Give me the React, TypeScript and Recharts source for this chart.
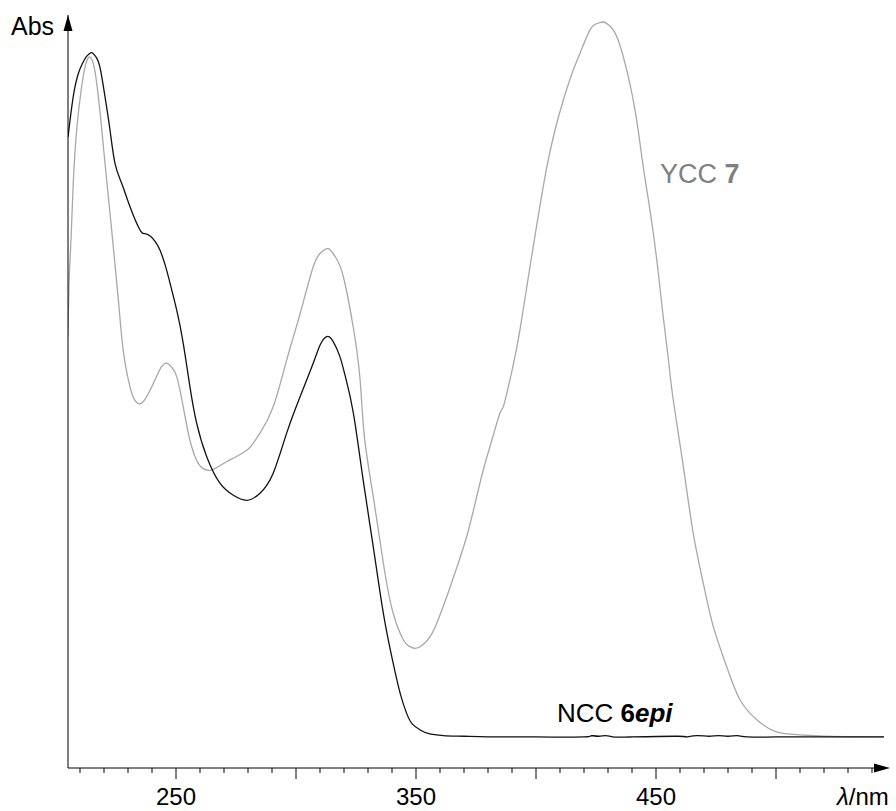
import React from 'react';
import { LineChart, Line, XAxis, YAxis } from 'recharts';

// NCC 6epi (black trace): [wavelength nm, absorbance (arb.)]
const nccNm = [
  205, 207.2, 209.3, 211, 212.5, 214, 215, 216.5, 218.3, 220.4, 222.5, 224.6, 227.4, 230.8, 235, 237, 239.5,
  241.5, 243.3, 245.5, 247.5, 250.3, 253, 255.8, 258.6, 262.8, 268.3, 273.9, 279.5, 285, 290.5, 296.1,
  301.7, 307.2, 310, 312.8, 315.5, 318.3, 320.5, 323.9, 328, 332.2, 336.4, 340.5, 343.5, 346.1, 348.5,
  351.7, 355, 361.4, 370, 380, 400, 420, 423, 426, 429, 432, 440, 459, 463, 467, 472, 476, 480, 484, 488,
  500, 520, 545,
];
const nccAbs = [
  0.839, 0.896, 0.928, 0.942, 0.951, 0.956, 0.957, 0.952, 0.937, 0.896, 0.849, 0.802, 0.774, 0.742, 0.709,
  0.704, 0.700, 0.692, 0.681, 0.66, 0.635, 0.597, 0.551, 0.49, 0.439, 0.392, 0.355, 0.338, 0.331, 0.341,
  0.369, 0.425, 0.476, 0.523, 0.548, 0.56, 0.553, 0.532, 0.505, 0.453, 0.359, 0.266, 0.173, 0.103, 0.06,
  0.033, 0.018, 0.01, 0.005, 0.002, 0.001, 0, 0, 0, 0.002, 0.001, 0.002, 0, 0, 0.001, 0, 0.002, 0.001,
  0.002, 0.001, 0.002, 0, 0, 0, 0,
];

// YCC 7 (grey trace)
const yccNm = [
  205, 205.5, 206.3, 207.2, 208.6, 210.5, 212.3, 214.2, 216, 217.6, 219, 220.4, 223.2, 226, 228, 230.8, 233,
  235, 237, 239.2, 242, 244, 246.1, 248, 250.3, 253, 255.8, 258.6, 261, 264.2, 267.5, 271.1, 275, 279.5,
  282, 285, 290.5, 296.1, 301.7, 307.2, 310.5, 313.5, 316.5, 319.7, 323.9, 326.7, 328.5, 332.2, 336.4,
  340.5, 344.7, 347, 349.6, 352.5, 355.8, 359, 362.8, 367, 371.1, 374.5, 378, 381.5, 385, 386.4, 388.5,
  390.5, 393.3, 397.5, 401, 404.5, 408, 411.4, 415, 418.3, 422.5, 425.5, 428.1, 430.2, 432.2, 434.3, 436.4,
  438.5, 440.5, 442.6, 444.7, 446.8, 448.9, 451, 453, 455.1, 457.2, 461.4, 465.5, 469.7, 473.9, 479.5, 485,
  492, 500.3, 510, 520, 545,
];
const yccAbs = [
  0.56, 0.64, 0.7, 0.775, 0.849, 0.905, 0.94, 0.951, 0.935, 0.897, 0.852, 0.803, 0.709, 0.611, 0.541, 0.49,
  0.47, 0.466, 0.472, 0.485, 0.505, 0.518, 0.523, 0.518, 0.504, 0.462, 0.415, 0.387, 0.376, 0.373, 0.378,
  0.385, 0.392, 0.401, 0.41, 0.425, 0.462, 0.527, 0.592, 0.658, 0.678, 0.683, 0.671, 0.644, 0.572, 0.5,
  0.42, 0.336, 0.243, 0.173, 0.136, 0.127, 0.124, 0.128, 0.14, 0.162, 0.196, 0.237, 0.28, 0.325, 0.373,
  0.414, 0.453, 0.462, 0.49, 0.52, 0.569, 0.658, 0.73, 0.797, 0.85, 0.891, 0.928, 0.956, 0.989, 0.998, 1.0,
  0.996, 0.989, 0.974, 0.951, 0.923, 0.891, 0.848, 0.797, 0.752, 0.704, 0.648, 0.588, 0.53, 0.471, 0.378,
  0.285, 0.215, 0.154, 0.098, 0.052, 0.024, 0.007, 0.003, 0.001, 0,
];

const xTicks = Array.from({ length: 34 }, (_, i) => 210 + i * 10);
const labelledTicks = [250, 350, 450];

const nccData = nccNm.map((nm, i) => ({ nm, abs: nccAbs[i] }));
const yccData = yccNm.map((nm, i) => ({ nm, abs: yccAbs[i] }));

const FONT = 'Liberation Sans, Arial, sans-serif';

const XTick = (props: any) => {
  const { x, y, payload } = props;
  const v = payload.value;
  const major = v % 50 === 0;
  return (
    <g>
      <line x1={x} x2={x} y1={y} y2={y + (major ? 11 : 5)} stroke="#000" strokeWidth={1} />
      {labelledTicks.includes(v) && (
        <text x={x} y={y + 37} textAnchor="middle" fontSize={24} fontFamily={FONT} fill="#000">
          {v}
        </text>
      )}
    </g>
  );
};

const App = () => {
  return (
    <div style={{ position: 'absolute', left: 0, top: 0, width: 896, height: 811, background: '#fff' }}>
      <LineChart width={896} height={811} margin={{ top: 15, right: 12, left: 0, bottom: 0 }}>
        <XAxis
          type="number"
          dataKey="nm"
          domain={[205, 545]}
          ticks={xTicks}
          interval={0}
          height={43}
          tickLine={false}
          tickSize={0}
          tickMargin={0}
          tick={<XTick />}
          axisLine={{ stroke: '#000', strokeWidth: 1 }}
          allowDataOverflow
        />
        <YAxis
          type="number"
          width={68}
          domain={[-0.0434, 1.0098]}
          tick={false}
          tickLine={false}
          axisLine={{ stroke: '#000', strokeWidth: 1 }}
          allowDataOverflow
        />
        <Line
          data={yccData}
          dataKey="abs"
          type="natural"
          stroke="#a8a8a8"
          strokeWidth={1.3}
          dot={false}
          isAnimationActive={false}
        />
        <Line
          data={nccData}
          dataKey="abs"
          type="natural"
          stroke="#111"
          strokeWidth={1.3}
          dot={false}
          isAnimationActive={false}
        />
      </LineChart>
      <svg width={896} height={811} style={{ position: 'absolute', left: 0, top: 0, pointerEvents: 'none' }}>
        {/* axis arrows */}
        <polygon points="68,15 63.5,31 72.5,31" fill="#000" />
        <line x1={884} x2={880} y1={768} y2={768} stroke="#000" />
        <polygon points="890,768 874,763.5 874,772.5" fill="#000" />
        <text x={11} y={35} fontSize={25} fontFamily={FONT} fill="#000">Abs</text>
        <text x={837} y={805} fontSize={24} fontFamily={FONT} fill="#000">
          <tspan fontStyle="italic">λ</tspan>/nm
        </text>
        <text x={660} y={183} fontSize={27} fontFamily={FONT} fill="#808080">
          YCC <tspan fontWeight="bold">7</tspan>
        </text>
        <text x={557} y={722} fontSize={26} fontFamily={FONT} fill="#000">
          NCC <tspan fontWeight="bold">6</tspan>
          <tspan fontWeight="bold" fontStyle="italic">epi</tspan>
        </text>
      </svg>
    </div>
  );
};

export default App;
